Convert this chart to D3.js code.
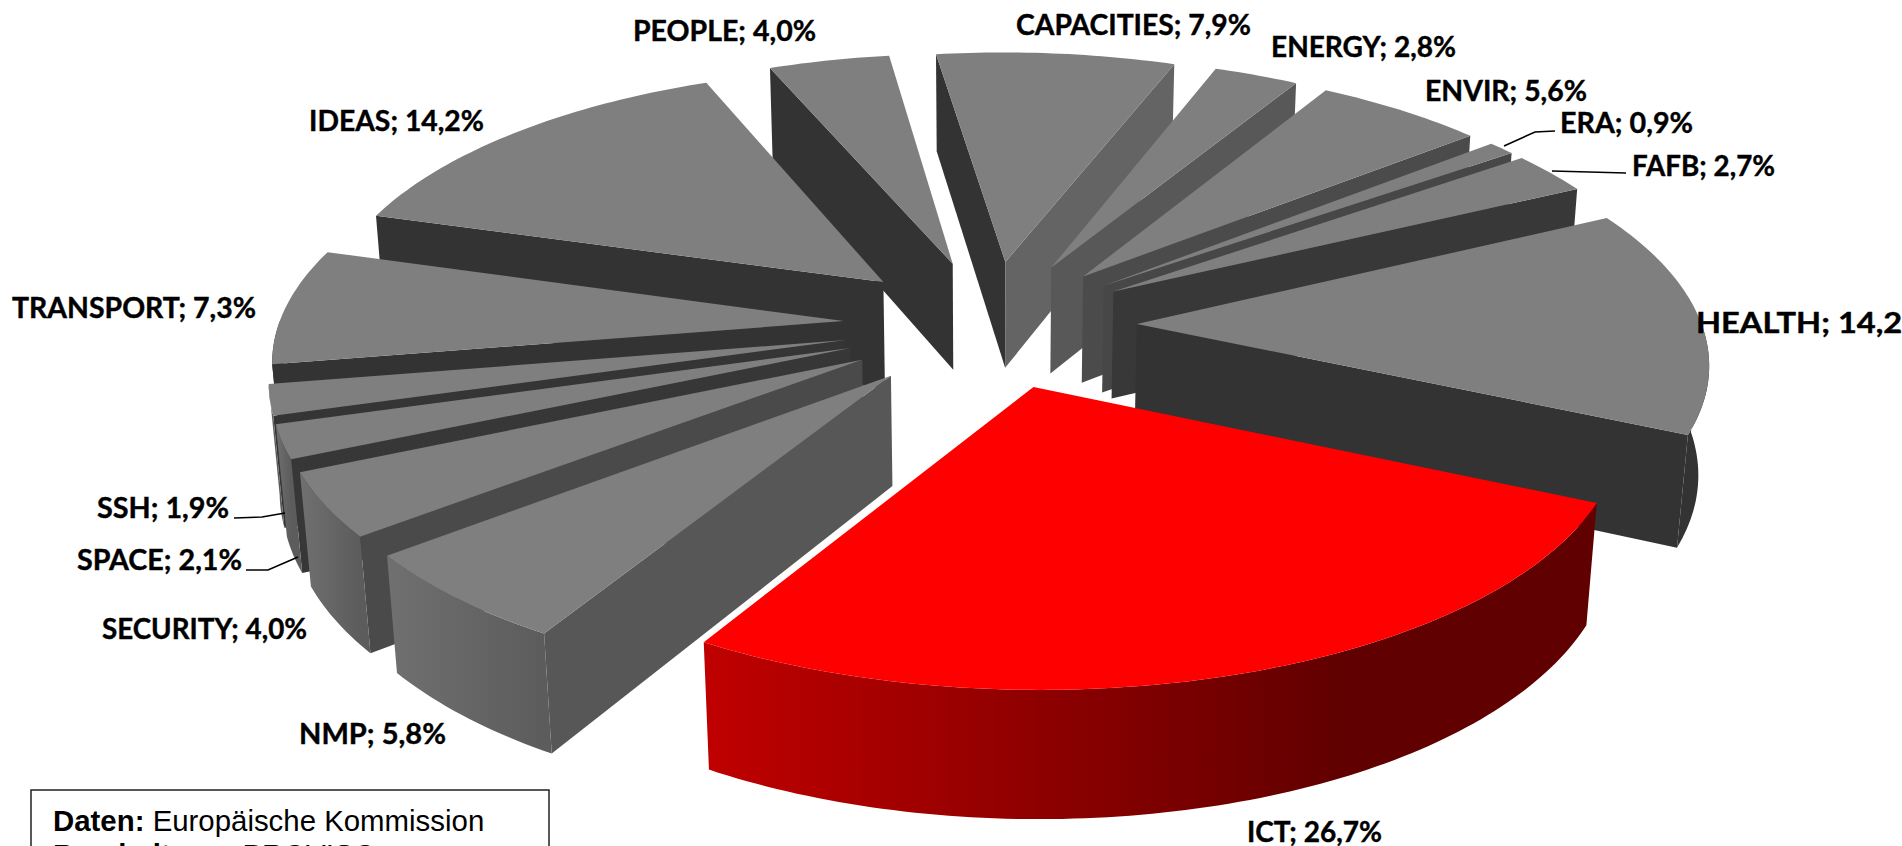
<!DOCTYPE html>
<html><head><meta charset="utf-8">
<style>html,body{margin:0;padding:0;background:#fff;overflow:hidden}svg{display:block}</style>
<script src="https://cdn.jsdelivr.net/npm/d3@7"></script></head>
<body><svg id="c" width="1902" height="846"></svg>
<script>
const categories=["CAPACITIES","ENERGY","ENVIR","ERA","FAFB","HEALTH","ICT","NMP","SECURITY","SPACE","SSH","TRANSPORT","IDEAS","PEOPLE"];
const shares=[7.9,2.8,5.6,0.9,2.7,14.2,26.7,5.8,4.0,2.1,1.9,7.3,14.2,4.0];
const highlighted=["ICT"];
const darkRims=["HEALTH","TRANSPORT"];
const labelLayout={CAPACITIES:[1016,35,235],ENERGY:[1271,57,185],ENVIR:[1425,101,162],ERA:[1560,133,133],FAFB:[1632,176,143],HEALTH:[1696,333,233],ICT:[1247,842,135],NMP:[299,744,147],SECURITY:[102,639,205],SPACE:[77,570,165],SSH:[97,518,132],TRANSPORT:[12,318,244],IDEAS:[309,131,175],PEOPLE:[633,41,183]};
const leaders={ERA:[[1504,146],[1535,132],[1555,131]],FAFB:[[1552,171],[1626,173]],SSH:[[285,513],[262,517],[234,518]],SPACE:[[298,557],[268,570],[246,570]]};
const sliceTweak={ICT:{e:0.25,ry:0.98,dz:1.06}};

const cx=990,cy=325,R=565,T=252,e=0.26,D=110,k=0.13,m=0.015,startDeg=-8;
const svg=d3.select("#c"),defs=svg.append("defs");
const pie=d3.pie().sort(null).startAngle(startDeg*Math.PI/180).endAngle((startDeg+360)*Math.PI/180);
const arcs=pie(shares).map((d,i)=>({...d,name:categories[i]}));
function proj(X,Y,Z){const w=1-k*Y+m*Z;return [cx+R*X/w,cy+(T*Y+D*Z)/w];}
const line=d3.line();
const faceColor=d3.scaleLinear().domain([0.2,0.45,0.62,0.87,0.95]).range(["#333333","#383838","#4a4a4a","#585858","#666666"]).clamp(true);
const step=Math.PI/180;
function arcAngles(a,b){const n=Math.max(2,Math.ceil((b-a)/step));return d3.range(n+1).map(i=>a+(b-a)*i/n);}
arcs.forEach(d=>{const mid=(d.startAngle+d.endAngle)/2,tw=sliceTweak[d.name]||{},ex=tw.e??e,ry=tw.ry??1;
  d.mid=mid;d.dz=tw.dz??1;d.ox=ex*Math.sin(mid);d.oy=-ex*Math.cos(mid);
  d.p=t=>[d.ox+Math.sin(t),d.oy-ry*Math.cos(t)];});
const order=arcs.slice().sort((a,b)=>a.oy-b.oy);
order.forEach((d,idx)=>{
  const hot=highlighted.includes(d.name);
  const g=svg.append("g").attr("class","slice").attr("data-name",d.name);
  [[d.startAngle,d.startAngle-Math.PI/2],[d.endAngle,d.endAngle+Math.PI/2]].forEach(([t,n])=>{
    const nx=Math.sin(n),ny=-Math.cos(n);
    if(nx*(0-d.ox)+ny*(1/k-d.oy)<=0) return;
    const q=d.p(t);
    g.append("path").attr("d",line([proj(d.ox,d.oy,0),proj(q[0],q[1],0),proj(q[0],q[1],d.dz),proj(d.ox,d.oy,d.dz)])+"Z")
      .attr("fill",hot?"#800000":faceColor(nx));
  });
  const a=Math.max(d.startAngle,Math.PI/2),b=Math.min(d.endAngle,3*Math.PI/2);
  if(b>a){
    const ts=arcAngles(a,b);
    const top=ts.map(t=>proj(...d.p(t),0)),bot=ts.map(t=>proj(...d.p(t),d.dz)).reverse();
    const xs=top.map(p=>p[0]);
    const id="rim"+idx;
    const dark=darkRims.includes(d.name);
    const grad=defs.append("linearGradient").attr("id",id).attr("gradientUnits","userSpaceOnUse")
      .attr("x1",d3.min(xs)).attr("x2",d3.min(xs)+(d3.max(xs)-d3.min(xs))*(hot?0.72:1)).attr("y1",0).attr("y2",0);
    grad.append("stop").attr("offset",0).attr("stop-color",hot?"#c00000":dark?"#333333":"#707070");
    grad.append("stop").attr("offset",1).attr("stop-color",hot?"#600000":dark?"#333333":"#5c5c5c");
    g.append("path").attr("d",line(top.concat(bot))+"Z").attr("fill",`url(#${id})`);
  }
  const rim=arcAngles(d.startAngle,d.endAngle).map(t=>proj(...d.p(t),0));
  g.append("path").attr("d",line([proj(d.ox,d.oy,0)].concat(rim))+"Z").attr("fill",hot?"#ff0000":"#7f7f7f");
});
Object.values(leaders).forEach(p=>svg.append("path").attr("d",d3.line()(p)).attr("fill","none").attr("stroke","#000").attr("stroke-width",1.6));
arcs.forEach(d=>{const l=labelLayout[d.name];
  svg.append("text").attr("x",l[0]).attr("y",l[1]).attr("textLength",l[2]).attr("lengthAdjust","spacingAndGlyphs")
   .attr("font-family","Lato").attr("font-weight",700).attr("font-size",28).attr("fill","#000").attr("stroke","#000").attr("stroke-width",0.4)
   .text(`${d.name}; ${d.value.toFixed(1).replace(".",",")}%`);});
svg.append("rect").attr("x",31).attr("y",790).attr("width",518).attr("height",80).attr("fill","#fff").attr("stroke","#222").attr("stroke-width",1.5);
const src=[["Daten: ","Europäische Kommission",831],["Bearbeitung: ","PROVISO",865]];
src.forEach(s=>{const t=svg.append("text").attr("x",53).attr("y",s[2]).attr("font-family","Liberation Sans").attr("font-size",29.4);
  t.append("tspan").attr("font-weight",700).text(s[0]);t.append("tspan").text(s[1]);});
</script></body></html>
